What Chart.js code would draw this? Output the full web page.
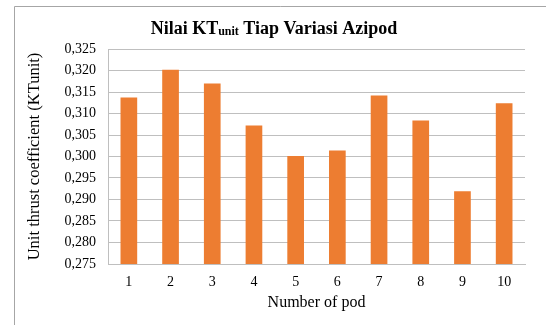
<!DOCTYPE html>
<html>
<head>
<meta charset="utf-8">
<script src="https://cdn.jsdelivr.net/npm/chart.js@4"></script>
<style>
html,body{margin:0;padding:0;background:#fff;}
#wrap{width:546px;height:325px;}
</style>
</head>
<body>
<div id="wrap"><canvas id="c" width="546" height="325"></canvas></div>
<script>
const categories = ['1','2','3','4','5','6','7','8','9','10'];
const ktUnit = [0.3137, 0.3202, 0.3170, 0.3072, 0.3001, 0.3014, 0.3142, 0.3084, 0.2919, 0.3124];
const yMin = 0.275, yMax = 0.325, yStep = 0.005;
const titleMain = 'Nilai KT', titleSub = 'unit', titleRest = ' Tiap Variasi Azipod';
const xTitle = 'Number of pod';
const yTitle = 'Unit thrust coefficient (KTunit)';

const SERIF = '"Liberation Serif","Times New Roman",serif';

const framePlugin = {
  id: 'frame',
  afterDraw(chart) {
    const ctx = chart.ctx;
    ctx.save();
    ctx.strokeStyle = '#a6a6a6';
    ctx.lineWidth = 1;
    ctx.beginPath();
    ctx.moveTo(14.5, 325); ctx.lineTo(14.5, 6.5); ctx.lineTo(546, 6.5);
    ctx.stroke();
    // title with smaller "unit"
    const big = 'bold 18px ' + SERIF, small = 'bold 12px ' + SERIF;
    ctx.font = big; const w1 = ctx.measureText(titleMain).width; const w3 = ctx.measureText(titleRest).width;
    ctx.font = small; const w2 = ctx.measureText(titleSub).width;
    const total = w1 + w2 + w3;
    let x = 274 - total / 2; const y = 34;
    ctx.fillStyle = '#000'; ctx.textBaseline = 'alphabetic'; ctx.textAlign = 'left';
    ctx.font = big; ctx.fillText(titleMain, x, y); x += w1;
    ctx.font = small; ctx.fillText(titleSub, x, y + 1); x += w2;
    ctx.font = big; ctx.fillText(titleRest, x, y);
    ctx.restore();
  }
};

new Chart(document.getElementById('c'), {
  type: 'bar',
  data: {
    labels: categories,
    datasets: [{
      data: ktUnit,
      backgroundColor: '#ED7D31',
      borderWidth: 0,
      barPercentage: 0.4,
      categoryPercentage: 1.0
    }]
  },
  options: {
    responsive: false,
    animation: false,
    devicePixelRatio: 1,
    layout: { padding: { left: 14, right: 21, top: 49, bottom: 0 } },
    plugins: { legend: { display: false }, title: { display: false }, tooltip: { enabled: false } },
    scales: {
      x: {
        grid: { display: false, drawTicks: false },
        border: { display: true, color: '#bfbfbf', width: 1 },
        ticks: { color: '#000', padding: 10, font: { family: SERIF, size: 14 } },
        title: { display: true, text: xTitle, color: '#000', font: { family: SERIF, size: 16 }, padding: { top: 0, bottom: 13 } },
        afterFit(s) { s.height = 61; }
      },
      y: {
        min: yMin, max: yMax,
        grid: { color: '#bfbfbf', drawTicks: false, lineWidth: 1 },
        border: { display: true, color: '#bfbfbf', width: 1 },
        ticks: {
          stepSize: yStep, color: '#000', padding: 12,
          font: { family: SERIF, size: 14 },
          callback: v => Number(v).toFixed(3).replace('.', ',')
        },
        title: { display: true, text: yTitle, color: '#000', font: { family: SERIF, size: 16.5 }, padding: { top: 11, bottom: 0 } },
        afterFit(s) { s.width = 94; }
      }
    }
  },
  plugins: [framePlugin]
});
</script>
</body>
</html>
